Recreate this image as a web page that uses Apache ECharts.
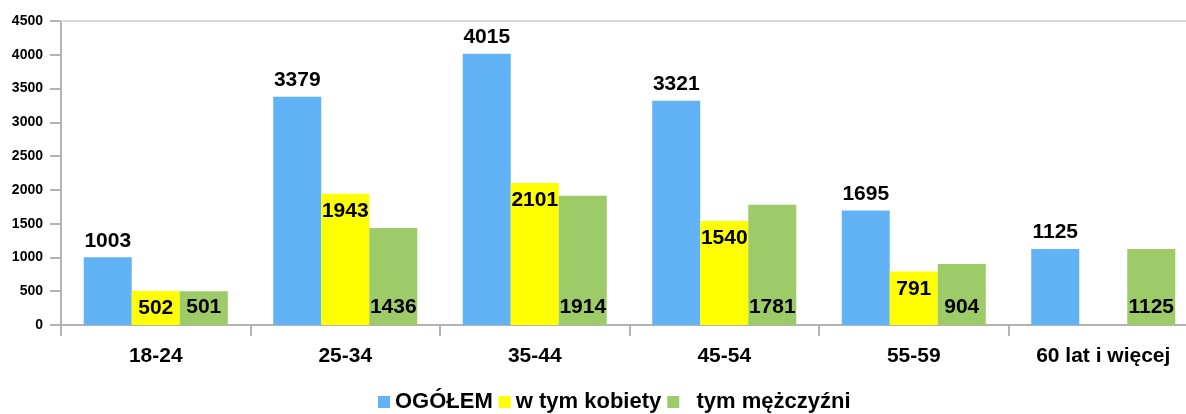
<!DOCTYPE html>
<html lang="pl">
<head>
<meta charset="UTF-8">
<title>Wiek</title>
<script src="https://cdn.jsdelivr.net/npm/echarts@6/dist/echarts.min.js"></script>
<style>
  * { margin: 0; padding: 0; }
  body { background: #fff; }
  #chart { width: 1186px; height: 414px; }
</style>
</head>
<body>
<div id="chart"></div>
<script>
const categories = ['18-24', '25-34', '35-44', '45-54', '55-59', '60 lat i więcej'];
const ogolem = [1003, 3379, 4015, 3321, 1695, 1125];
const kobiety = [502, 1943, 2101, 1540, 791, 0];
const mezczyzni = [501, 1436, 1914, 1781, 904, 1125];
const seriesNames = ['OGÓŁEM', 'w tym kobiety', '  tym mężczyźni'];

const font = 'Liberation Sans, Arial, sans-serif';
const axisGray = '#b3b3b3';

const labelStyle = {
  show: true,
  fontFamily: font,
  fontSize: 21,
  fontWeight: 'bold',
  color: '#000',
  formatter: p => (p.value ? p.value : '')
};

const chart = echarts.init(document.getElementById('chart'));
chart.setOption({
  animation: false,
  grid: { left: 61, width: 1137, top: 21, bottom: 89, outerBoundsMode: 'none', containLabel: false },
  legend: {
    top: 386,
    left: 373,
    itemWidth: 12,
    itemHeight: 12,
    itemGap: 6,
    icon: 'rect',
    textStyle: { fontFamily: font, fontSize: 22, fontWeight: 'bold', color: '#000' },
    data: seriesNames
  },
  xAxis: [{
    type: 'category',
    data: categories,
    axisLine: { lineStyle: { color: axisGray, width: 2 } },
    axisTick: { show: true, length: 11, lineStyle: { color: axisGray, width: 2 } },
    axisLabel: { margin: 21, fontFamily: font, fontSize: 21, fontWeight: 'bold', color: '#000' }
  }, {
    type: 'category',
    position: 'top',
    data: categories,
    axisLine: { show: true, lineStyle: { color: '#d9d9d9', width: 2 } },
    axisTick: { show: false },
    axisLabel: { show: false }
  }],
  yAxis: {
    type: 'value',
    min: 0,
    max: 4500,
    interval: 500,
    axisLine: { show: true, lineStyle: { color: axisGray, width: 2 } },
    axisTick: { show: true, length: 11, lineStyle: { color: axisGray, width: 2 } },
    splitLine: { show: false },
    axisLabel: {
      margin: 18, fontFamily: font, fontSize: 14, fontWeight: 'bold', color: '#000',
      formatter: v => String(v)
    }
  },
  series: [
    {
      name: seriesNames[0], type: 'bar', data: ogolem,
      barGap: '0%', barCategoryGap: '24%',
      itemStyle: { color: '#62b3f5' },
      label: Object.assign({}, labelStyle, { position: 'top', distance: 6 })
    },
    {
      name: seriesNames[1], type: 'bar', data: kobiety,
      itemStyle: { color: '#ffff00' },
      label: Object.assign({}, labelStyle, { position: 'insideTop', distance: 7 })
    },
    {
      name: seriesNames[2], type: 'bar', data: mezczyzni,
      itemStyle: { color: '#9dcb68' },
      label: Object.assign({}, labelStyle, { position: 'insideBottom', distance: 7 })
    }
  ]
});
</script>
</body>
</html>
